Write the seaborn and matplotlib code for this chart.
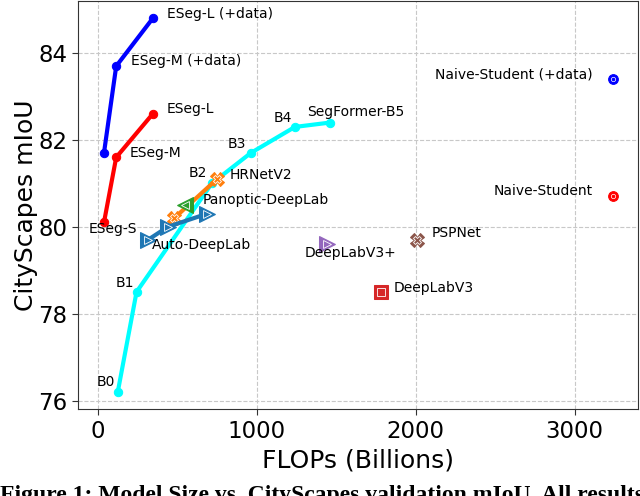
import matplotlib
matplotlib.use("Agg")
import matplotlib.pyplot as plt
import seaborn as sns
import pandas as pd

# ESeg (with extra data / without)
eseg_names = ["ESeg-S", "ESeg-M", "ESeg-L"]
eseg_flops = [38, 115, 345]
eseg_data_miou = [81.7, 83.7, 84.8]
eseg_miou = [80.1, 81.6, 82.6]

# SegFormer B0..B5
segformer_names = ["B0", "B1", "B2", "B3", "B4", "SegFormer-B5"]
segformer_flops = [125, 243, 717, 962, 1240, 1460]
segformer_miou = [76.2, 78.5, 81.0, 81.7, 82.3, 82.4]

# other baselines
auto_flops = [315, 440, 686]
auto_miou = [79.7, 80.0, 80.3]
hrnet_flops = [480, 750]
hrnet_miou = [80.2, 81.1]
panoptic_flops = [550]
panoptic_miou = [80.5]
dlv3p_flops = [1440]
dlv3p_miou = [79.6]
psp_flops = [2006]
psp_miou = [79.7]
dlv3_flops = [1780]
dlv3_miou = [78.5]
naive_flops = [3240]
naive_data_miou = [83.4]
naive_miou = [80.7]


def line(ax, xs, ys, color, marker, ms, lw=3):
    df = pd.DataFrame({"x": xs, "y": ys})
    sns.lineplot(data=df, x="x", y="y", ax=ax, color=color, lw=lw, marker=marker,
                 markersize=ms, markeredgecolor=color, sort=False, estimator=None)


def outlined(ax, xs, ys, color, marker, ms, lw=3, inner=0.55, mew=0.6):
    line(ax, xs, ys, color, marker, ms, lw)
    ax.plot(xs, ys, ls="none", marker=marker, ms=ms * inner, mfc="none", mec="white", mew=mew)


def label(ax, txt, x, y, dx, dy, ha="left"):
    ax.annotate(txt, (x, y), xytext=(dx * 0.72, dy * 0.72), textcoords="offset points",
                ha=ha, va="center", fontsize=10)


sns.set_style("ticks", {"axes.grid": True, "grid.linestyle": "--", "grid.color": "#c8c8c8",
                        "axes.edgecolor": "#333333"})
plt.rcParams["font.family"] = ["DejaVu Sans"]
plt.rcParams["text.color"] = "black"
plt.rcParams["axes.labelcolor"] = "black"
plt.rcParams["xtick.color"] = "black"
plt.rcParams["ytick.color"] = "black"

fig = plt.figure(figsize=(6.4, 4.96), dpi=100)
ax = fig.add_axes([0.122, 0.175, 0.875, 0.823])

line(ax, eseg_flops, eseg_data_miou, "blue", "o", 6)
line(ax, eseg_flops, eseg_miou, "red", "o", 6)
line(ax, segformer_flops, segformer_miou, "cyan", "o", 6)
outlined(ax, hrnet_flops, hrnet_miou, "tab:orange", "X", 10)
outlined(ax, panoptic_flops, panoptic_miou, "tab:green", "<", 11)
outlined(ax, auto_flops, auto_miou, "tab:blue", ">", 11)
outlined(ax, dlv3p_flops, dlv3p_miou, "tab:purple", ">", 11)
outlined(ax, psp_flops, psp_miou, "tab:brown", "X", 10)
outlined(ax, dlv3_flops, dlv3_miou, "tab:red", "s", 10)
outlined(ax, naive_flops, naive_data_miou, "blue", "o", 7, inner=0.45, mew=0.5)
outlined(ax, naive_flops, naive_miou, "red", "o", 7, inner=0.45, mew=0.5)

# labels
label(ax, "ESeg-L (+data)", eseg_flops[2], eseg_data_miou[2], 14, 4)
label(ax, "ESeg-M (+data)", eseg_flops[1], eseg_data_miou[1], 15, 5)
label(ax, "ESeg-L", eseg_flops[2], eseg_miou[2], 14, 5)
label(ax, "ESeg-M", eseg_flops[1], eseg_miou[1], 13, 4)
label(ax, "ESeg-S", eseg_flops[0], eseg_miou[0], -15, -7)
label(ax, "Naive-Student (+data)", naive_flops[0], naive_data_miou[0], -20, 5, ha="right")
label(ax, "Naive-Student", naive_flops[0], naive_miou[0], -20, 5, ha="right")
seg_off = [(-3, 10), (-2, 9), (-5, 10), (-5, 9), (-3, 9)]
for n, fx, my, (dx, dy) in zip(segformer_names[:5], segformer_flops, segformer_miou, seg_off):
    label(ax, n, fx, my, dx, dy, ha="right")
label(ax, segformer_names[5], segformer_flops[5], segformer_miou[5], -23, 11)
label(ax, "HRNetV2", hrnet_flops[1], hrnet_miou[1], 13, 4)
label(ax, "Panoptic-DeepLab", panoptic_flops[0], panoptic_miou[0], 17, 5)
label(ax, "Auto-DeepLab", auto_flops[0], auto_miou[0], 4, -5)
label(ax, "DeepLabV3+", dlv3p_flops[0], dlv3p_miou[0], -22, -9)
label(ax, "PSPNet", psp_flops[0], psp_miou[0], 15, 7)
label(ax, "DeepLabV3", dlv3_flops[0], dlv3_miou[0], 13, 4)

ax.set_xlim(-125, 3400)
ax.set_ylim(75.8, 85.2)
ax.set_xticks([0, 1000, 2000, 3000])
ax.set_yticks([76, 78, 80, 82, 84])
ax.tick_params(axis="both", labelsize=16.5, length=4, color="#333333")
ax.set_xlabel("FLOPs (Billions)", fontsize=18, labelpad=4)
ax.set_ylabel("CityScapes mIoU", fontsize=18, labelpad=0)

# caption of the paper figure, cut at the bottom edge as in the source image
fig.text(0.0, 0.022, "Figure 1: Model Size vs. CityScapes validation mIoU. All results",
         family="Liberation Serif", fontsize=17, fontweight="bold", va="top", ha="left")

fig.savefig("out.png", dpi=100)
